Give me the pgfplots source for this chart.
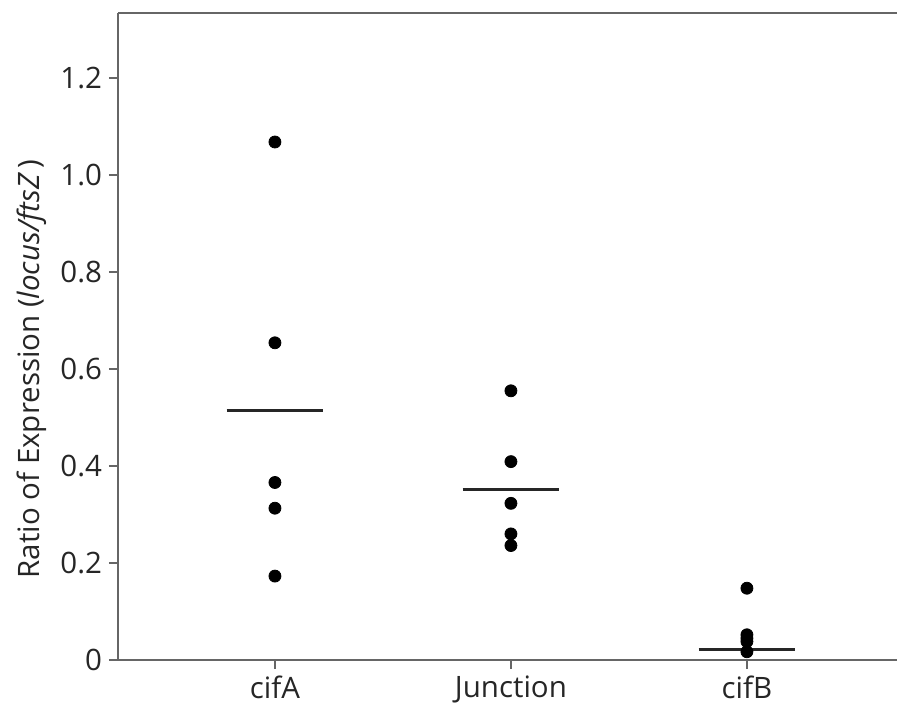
\documentclass[border=0pt]{standalone}
\usepackage{fontspec}
\setmainfont{Open Sans}
\usepackage{pgfplots}
\pgfplotsset{compat=1.18}

\begin{document}
\begin{tikzpicture}[x=1bp,y=1bp]
\begin{axis}[
  at={(0,0)}, anchor=south west,
  scale only axis, width=389.5bp, height=323.5bp,
  xmin=0.335, xmax=3.636, ymin=0, ymax=1.334,
  axis lines=left, axis line style={-, black!60, line width=1.1bp},
  xtick={1,2,3}, xticklabels={cifA,Junction,cifB},
  ytick={0,0.2,0.4,0.6,0.8,1.0,1.2},
  yticklabels={0,0.2,0.4,0.6,0.8,1.0,1.2},
  tick align=outside, major tick length=4.5bp,
  tick style={black!60, line width=0.8bp},
  tick label style={font=\fontsize{14.8}{17}\selectfont, black!85},
  /pgf/number format/assume math mode=true,
  ylabel={Ratio of Expression (\textit{locus/ftsZ}\,)},
  ylabel style={font=\fontsize{14.8}{17}\selectfont, black!85, at={(ticklabel cs:0.45)}},
  clip=false,
]
\draw[black!60, line width=1.1bp] (rel axis cs:0,1) -- (rel axis cs:1,1);
\addplot[only marks, mark=*, mark size=3bp, black] coordinates {
(1,1.068)(1,0.654)(1,0.366)(1,0.313)(1,0.173)
(2,0.555)(2,0.409)(2,0.323)(2,0.260)(2,0.236)
(3,0.148)(3,0.052)(3,0.045)(3,0.038)(3,0.017)};
\addplot[black!85, line width=1.3bp] coordinates {(0.795,0.515)(1.205,0.515)};
\addplot[black!85, line width=1.3bp] coordinates {(1.795,0.352)(2.205,0.352)};
\addplot[black!85, line width=1.3bp] coordinates {(2.795,0.022)(3.205,0.022)};
\end{axis}
\pgfresetboundingbox
\path (-59bp,-25.5bp) rectangle (389.5bp,330bp);
\end{tikzpicture}
\end{document}
